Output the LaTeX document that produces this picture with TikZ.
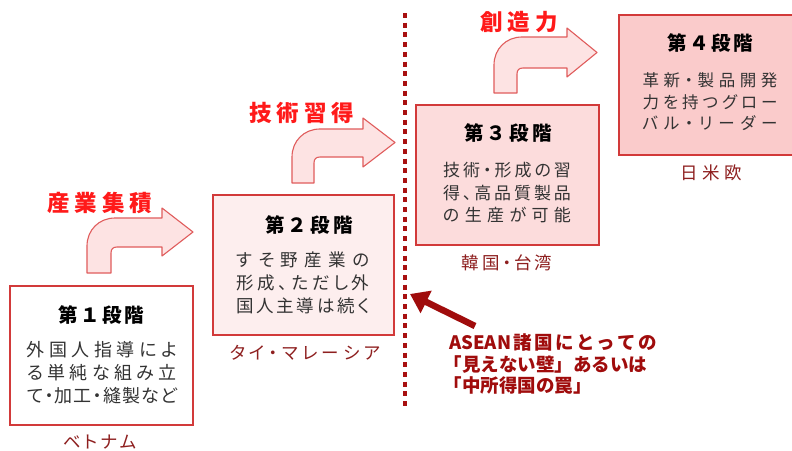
\documentclass[tikz,border=0pt]{standalone}
\usepackage{fontspec}
\setmainfont{Noto Sans CJK JP}
\usetikzlibrary{arrows.meta}
\definecolor{boxred}{HTML}{D23A3A}
\definecolor{arrowline}{HTML}{E05C5C}
\definecolor{arrowfill}{HTML}{FDE3E3}
\definecolor{fillB}{HTML}{FDEEEE}
\definecolor{fillC}{HTML}{FCDCDC}
\definecolor{fillD}{HTML}{FACBCB}
\definecolor{bodygray}{HTML}{333333}
\definecolor{countryred}{HTML}{8E1F1F}
\definecolor{labelred}{HTML}{FF1A1A}
\definecolor{wallred}{HTML}{A81010}
\definecolor{aseanred}{HTML}{A00C0C}
\makeatletter
\def\jl#1#2{\hbox to #1pt{\jl@first#2\relax}}
\def\jl@first#1{#1\jl@loop}
\def\jl@loop#1{\ifx#1\relax\else\hfil#1\expandafter\jl@loop\fi}
\makeatother
\def\asean{ASEAN}
\newcommand\bentarrow[9]{%
  \filldraw[bentstyle] (#1,#3) -- (#1,#4+28) .. controls (#1,#4+12) and (#1+12,#4) .. (#1+28,#4)
   -- (#6,#4) -- (#6,#8) -- (#7,{(#8+#9)/2}) -- (#6,#9) -- (#6,#5)
   -- (#2+6,#5) .. controls (#2+2,#5) and (#2,#5+2) .. (#2,#5+6) -- (#2,#3) -- cycle;}
\begin{document}
\begin{tikzpicture}[x=1pt,y=-1pt,
  stagebox/.style={draw=boxred, line width=1.3pt, inner sep=0pt},
  bentstyle/.style={draw=arrowline, fill=arrowfill, line width=1.1pt, line join=round},
  titletext/.style={inner sep=0pt, text=black, font={\fontsize{19.5}{22}\selectfont\bfseries}},
  bodytext/.style={inner sep=0pt, align=center, text=bodygray},
  country/.style={inner sep=0pt, text=countryred, font={\fontsize{17.5}{20}\selectfont\addfontfeature{RawFeature=+palt}}},
  redlabel/.style={inner sep=0pt, text=labelred, font={\fontsize{22.5}{26}\selectfont\bfseries}},
  wallline/.style={draw=wallred, line width=3.6pt, dash pattern=on 5pt off 4.7pt},
  aseantext/.style={inner sep=0pt, align=left, text=aseanred, font={\fontsize{18.5}{21.5}\selectfont\bfseries}},
  bigarrow/.style={draw=aseanred, line width=6.5pt, -{Triangle[length=18pt,width=24pt]}}
]
\useasboundingbox (0,0) rectangle (792,450);
\clip (0,0) rectangle (792,450);
\fill[white] (0,0) rectangle (792,450);

% bent arrows
\bentarrow{87}{111}{273}{218}{247}{162}{193}{208}{256}
\bentarrow{292}{314}{183}{129}{157}{363}{395}{118}{167}
\bentarrow{494}{517}{93}{37}{68}{567}{597}{28}{77}

\node[redlabel] (lab1) at (100,203) {\jl{105}{産業集積}};
\node[redlabel] (lab2) at (302,113) {\jl{105}{技術習得}};
\node[redlabel] (lab3) at (519,22) {\jl{78}{創造力}};

% stage boxes
\node[stagebox, fill=white, minimum width=183pt, minimum height=139pt] (s1) at (101.5,355.5) {};
\node[stagebox, fill=fillB, minimum width=181pt, minimum height=140pt] (s2) at (303.5,265) {};
\node[stagebox, fill=fillC, minimum width=183pt, minimum height=140pt] (s3) at (507.5,175) {};
\node[stagebox, fill=fillD, minimum width=182pt, minimum height=140pt] (s4) at (710,85) {};

\node[titletext] (t1) at (101,315) {\jl{86}{第１段階}};
\node[titletext] (t2) at (309,225) {\jl{88}{第２段階}};
\node[titletext] (t3) at (508,133) {\jl{88}{第３段階}};
\node[titletext] (t4) at (710,43) {\jl{86}{第４段階}};

\node[bodytext, font={\fontsize{18}{23}\selectfont\addfontfeature{RawFeature=+palt}}] (b1) at (102,373)
  {\jl{150}{外国人指導によ}\\\jl{150}{る単純な組み立}\\\jl{150}{て・加工・縫製など}};
\node[bodytext, font={\fontsize{17.5}{23}\selectfont\addfontfeature{RawFeature=+palt}}] (b2) at (303,283)
  {\jl{133}{すそ野産業の}\\\jl{133}{形成、ただし外}\\\jl{133}{国人主導は続く}};
\node[bodytext, font={\fontsize{17}{22.5}\selectfont\addfontfeature{RawFeature=+palt}}] (b3) at (507,193)
  {\jl{128}{技術・形成の習}\\\jl{128}{得、高品質製品}\\\jl{128}{の生産が可能}};
\node[bodytext, font={\fontsize{16.5}{21.5}\selectfont\addfontfeature{RawFeature=+palt}}] (b4) at (710,102)
  {\jl{135}{革新・製品開発}\\\jl{135}{力を持つグロー}\\\jl{135}{バル・リーダー}};

\node[country] (c1) at (100,442) {\jl{74}{ベトナム}};
\node[country] (c2) at (305,353) {\jl{150}{タイ・マレーシア}};
\node[country] (c3) at (507,263) {\jl{91}{韓国・台湾}};
\node[country] (c4) at (711,173) {\jl{62}{日米欧}};

% wall
\coordinate (walltop) at (405,13);
\coordinate (wallbot) at (405,410);
\draw[wallline] (walltop) -- (wallbot);

\node[aseantext, anchor=west] (asean) at (449,364)
  {\jl{208}{\asean 諸国にとっての}\\\hspace*{-0.3em}\jl{198}{「見えない壁」あるいは}\\\hspace*{-0.3em}\jl{147}{「中所得国の罠」}};
\coordinate (arrowtail) at (475,326);
\coordinate (arrowtip) at (410,294);
\draw[bigarrow] (arrowtail) -- (arrowtip);
\end{tikzpicture}
\end{document}
